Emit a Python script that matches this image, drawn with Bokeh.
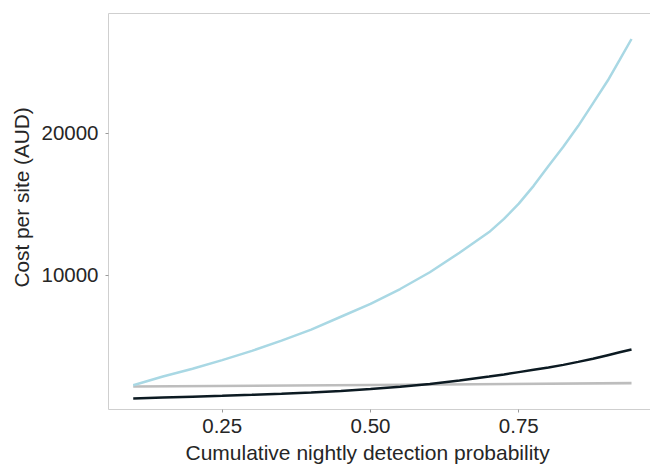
from bokeh.plotting import figure
from bokeh.models import Range1d, LinearAxis, FixedTicker, Title
from bokeh.embed import file_html
from bokeh.resources import INLINE

# ---- data ----
prob = [0.10, 0.15, 0.20, 0.25, 0.30, 0.35, 0.40, 0.45, 0.50, 0.55,
        0.60, 0.65, 0.70, 0.725, 0.75, 0.775, 0.80, 0.825, 0.85, 0.875,
        0.90, 0.92, 0.94]
cost_blue = [2290, 2900, 3450, 4050, 4700, 5420, 6200, 7100, 8000, 9050,
             10230, 11600, 13050, 13980, 15050, 16300, 17700, 19050, 20500, 22100,
             23700, 25150, 26620]
cost_black = [1360, 1420, 1480, 1545, 1615, 1690, 1780, 1890, 2020, 2180,
              2380, 2620, 2900, 3050, 3210, 3370, 3530, 3720, 3930, 4150,
              4400, 4600, 4800]
prob_grey = [0.10, 0.50, 0.94]
cost_grey = [2200, 2310, 2440]

x_ticks = [0.25, 0.50, 0.75]
x_tick_labels = ["0.25", "0.50", "0.75"]
y_ticks = [10000, 20000]
y_tick_labels = ["10000", "20000"]

x_title = "Cumulative nightly detection probability"
y_title = "Cost per site (AUD)"

FONT = "Liberation Sans"
TEXT_COLOR = "#262626"
BORDER = "#cfcfcf"

p = figure(width=650, height=468, output_backend="svg", toolbar_location=None,
           x_range=Range1d(0.0583, 0.9720), y_range=Range1d(583, 28412),
           min_border_left=108, min_border_right=0, min_border_top=13,
           min_border_bottom=59)
p.outline_line_color = None
p.xgrid.visible = False
p.ygrid.visible = False
p.background_fill_color = "white"
p.border_fill_color = "white"

p.line(prob_grey, cost_grey, line_color="#bdbdbd", line_width=2.6)
p.line(prob, cost_blue, line_color="#a9d8e4", line_width=2.5)
p.line(prob, cost_black, line_color="#0c1a22", line_width=2.5)

for ax in (p.xaxis[0], p.yaxis[0]):
    ax.axis_line_color = BORDER
    ax.axis_line_width = 1
    ax.major_tick_line_color = "#9a9a9a"
    ax.major_tick_in = 0
    ax.major_tick_out = 3
    ax.minor_tick_line_color = None
    ax.major_label_text_font = FONT
    ax.major_label_text_font_size = "20.5px"
    ax.major_label_text_color = TEXT_COLOR

p.xaxis[0].ticker = FixedTicker(ticks=x_ticks)
p.xaxis[0].major_label_overrides = {t: s for t, s in zip(x_ticks, x_tick_labels)}
p.xaxis[0].major_label_standoff = 6
p.yaxis[0].ticker = FixedTicker(ticks=y_ticks)
p.yaxis[0].major_label_overrides = {t: s for t, s in zip(y_ticks, y_tick_labels)}
p.yaxis[0].major_label_standoff = 7

top_axis = LinearAxis(ticker=FixedTicker(ticks=[]), major_tick_out=0,
                      major_tick_in=0, minor_tick_out=0, minor_tick_in=0,
                      major_label_text_font_size="0px", major_label_standoff=0,
                      axis_line_color=BORDER, axis_line_width=1)
p.add_layout(top_axis, "above")

p.add_layout(Title(text=x_title, align="left", offset=77, standoff=6,
                   text_font=FONT, text_font_size="21px", text_font_style="normal",
                   text_color=TEXT_COLOR), "below")
p.add_layout(Title(text=y_title, align="left", offset=122, standoff=8,
                   vertical_align="top",
                   text_font=FONT, text_font_size="20.8px", text_font_style="normal",
                   text_color=TEXT_COLOR), "left")

open("out.html", "w").write(file_html(p, INLINE))
